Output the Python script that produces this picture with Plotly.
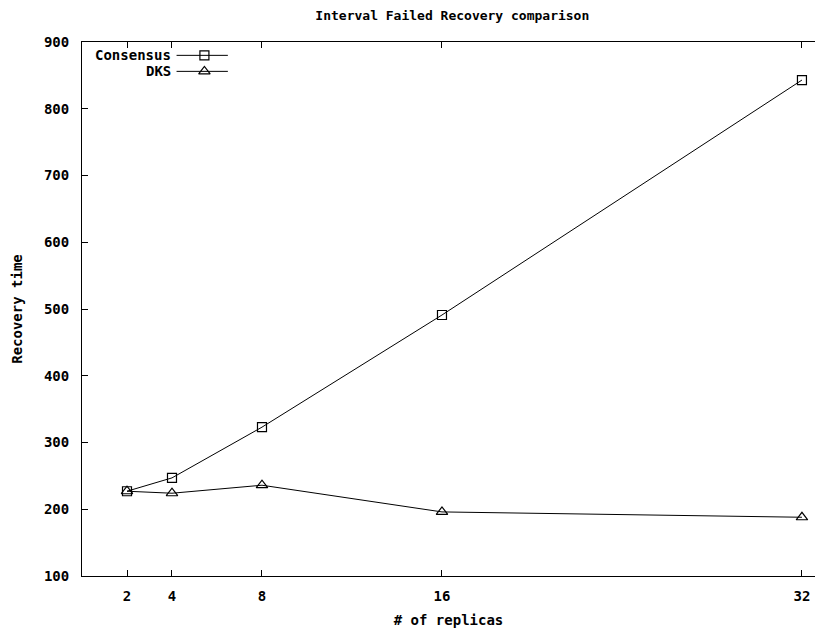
import plotly.graph_objects as go

# Number of replicas and measured recovery times
replicas = [2, 4, 8, 16, 32]
consensus = [227, 247, 323, 491, 843]
dks = [227, 224, 236, 196, 188]

x_ticks = [2, 4, 8, 16, 32]
y_ticks = [100, 200, 300, 400, 500, 600, 700, 800, 900]

FONT = "DejaVu Sans Mono"
LINE = "#000000"

fig = go.Figure()

fig.add_trace(go.Scatter(
    x=replicas, y=consensus, mode="lines+markers", name="Consensus",
    line=dict(color=LINE, width=1),
    marker=dict(symbol="square-open", size=9, color=LINE, line=dict(width=1.2)),
    showlegend=False,
))
fig.add_trace(go.Scatter(
    x=replicas, y=dks, mode="lines+markers", name="DKS",
    line=dict(color=LINE, width=1),
    marker=dict(symbol="triangle-up-open", size=10, color=LINE, line=dict(width=1.2)),
    showlegend=False,
))

label_font = dict(family=FONT, size=14, color="#000", weight="bold")

# Key in the upper-left corner: label, then line sample with marker
key_names = ["Consensus", "DKS"]
key_symbols = ["square-open", "triangle-up-open"]
key_y = [0.975, 0.945]
for name, sym, ky in zip(key_names, key_symbols, key_y):
    fig.add_annotation(
        x=0.124, y=ky, xref="paper", yref="paper", text=name,
        showarrow=False, xanchor="right", yanchor="middle", font=label_font,
    )
    fig.add_shape(type="line", xref="paper", yref="paper",
                  x0=0.129, x1=0.199, y0=ky, y1=ky,
                  line=dict(color=LINE, width=1))
    fig.add_trace(go.Scatter(
        x=[0.167], y=[ky], xaxis="x2", yaxis="y2", mode="markers",
        marker=dict(symbol=sym, size=9 if sym == "square-open" else 10,
                    color=LINE, line=dict(width=1.2)),
        showlegend=False, hoverinfo="skip",
    ))

fig.update_layout(
    width=815, height=630,
    margin=dict(l=82, r=0, t=42, b=54),
    paper_bgcolor="white", plot_bgcolor="white",
    title=dict(text="Interval Failed Recovery comparison", x=0.555, xanchor="center",
               y=0.975, yanchor="middle",
               font=dict(family=FONT, size=13, color="#000", weight="bold")),
    xaxis=dict(
        range=[0, 32.58], tickvals=x_ticks, ticktext=[str(v) for v in x_ticks],
        ticks="inside", ticklen=6, tickcolor="#000", showgrid=False, zeroline=False,
        showline=True, linecolor="#000", linewidth=1, mirror="ticks",
        tickfont=label_font, ticklabelstandoff=7,
        title=dict(text="# of replicas", font=label_font, standoff=12),
    ),
    yaxis=dict(
        range=[100, 900], tickvals=y_ticks,
        ticks="inside", ticklen=6, tickcolor="#000", showgrid=False, zeroline=False,
        showline=True, linecolor="#000", linewidth=1, mirror=False,
        tickfont=label_font, ticklabelstandoff=9,
        title=dict(text="Recovery time", font=label_font, standoff=18),
    ),
    xaxis2=dict(range=[0, 1], overlaying="x", visible=False, fixedrange=True),
    yaxis2=dict(range=[0, 1], overlaying="y", visible=False, fixedrange=True),
)

fig.write_html("out.html")
